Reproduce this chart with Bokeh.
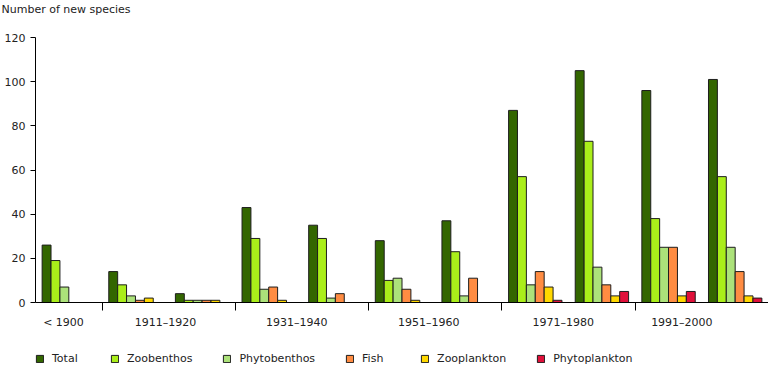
from bokeh.plotting import figure
from bokeh.models import Range1d, FixedTicker, Legend, LegendItem, ColumnDataSource, LinearAxis
from bokeh.layouts import column
from bokeh.embed import file_html
from bokeh.resources import INLINE

# ---- data ----
periods = ["< 1900", "1901–1910", "1911–1920", "1921–1930", "1931–1940", "1941–1950",
           "1951–1960", "1961–1970", "1971–1980", "1981–1990", "1991–2000"]
total = [26, 14, 4, 43, 35, 28, 37, 87, 105, 96, 101]
zoobenthos = [19, 8, 1, 29, 29, 10, 23, 57, 73, 38, 57]
phytobenthos = [7, 3, 1, 6, 2, 11, 3, 8, 16, 25, 25]
fish = [0, 1, 1, 7, 4, 6, 11, 14, 8, 25, 14]
zooplankton = [0, 2, 1, 1, 0, 1, 0, 7, 3, 3, 3]
phytoplankton = [0, 0, 0, 0, 0, 0, 0, 1, 5, 5, 2]
series_names = ["Total", "Zoobenthos", "Phytobenthos", "Fish", "Zooplankton", "Phytoplankton"]
shown_labels = ["< 1900", "1911–1920", "1931–1940", "1951–1960", "1971–1980", "1991–2000"]
y_ticks = [0, 20, 40, 60, 80, 100, 120]

series_values = [total, zoobenthos, phytobenthos, fish, zooplankton, phytoplankton]
colors = ["#336600", "#aaee1a", "#ace27a", "#ff8c42", "#ffd800", "#e0103a"]

FONT = "DejaVu Sans"
TXT = "#222222"
EDGE = "#1e1e1e"

p = figure(width=768, height=338, x_range=Range1d(0, len(periods)), y_range=Range1d(0, 120),
           output_backend="svg", toolbar_location=None,
           min_border_left=35, min_border_right=0, min_border_top=37, min_border_bottom=36)
p.outline_line_color = None
p.xgrid.visible = False
p.ygrid.visible = False

bar_w = 0.1335
sources = []
for j, (name, vals) in enumerate(zip(series_names, series_values)):
    xs = [i + 0.5 + (j - 2.5) * bar_w for i in range(len(periods))]
    src = ColumnDataSource(dict(x=xs, top=vals, period=periods))
    sources.append(src)
    p.vbar(x="x", top="top", width=bar_w, bottom=0, source=src,
           fill_color=colors[j], line_color=EDGE, line_width=1)

# x axis: separator ticks between pairs of decades, labels centred between them
label_pos = [0.42, 1.95, 3.92, 5.9, 7.92, 9.7]
xa = p.xaxis[0]
xa.ticker = FixedTicker(ticks=label_pos, minor_ticks=[1, 3, 5, 7, 9])
xa.major_label_overrides = {pos: lab for pos, lab in zip(label_pos, shown_labels)}
xa.major_tick_out = 0
xa.major_tick_in = 0
xa.minor_tick_out = 8
xa.minor_tick_in = 0
xa.minor_tick_line_color = "black"
xa.axis_line_color = "black"
xa.major_label_standoff = 5
xa.major_label_text_font = FONT
xa.major_label_text_font_size = "11px"
xa.major_label_text_color = TXT

ya = p.yaxis[0]
ya.ticker = FixedTicker(ticks=y_ticks, minor_ticks=[])
ya.major_tick_out = 5
ya.major_tick_in = 0
ya.major_tick_line_color = "black"
ya.axis_line_color = "black"
ya.major_label_standoff = 5
ya.major_label_text_font = FONT
ya.major_label_text_font_size = "11px"
ya.major_label_text_color = TXT

# blank spacer between the title and the plot area
spacer = LinearAxis(ticker=FixedTicker(ticks=[]), axis_line_color=None,
                    major_tick_out=0, major_tick_in=0, minor_tick_out=0, minor_tick_in=0,
                    major_label_standoff=0, axis_label=" ", axis_label_standoff=4,
                    axis_label_text_font_size="11px")
p.add_layout(spacer, "above")

p.title.text = "Number of new species"
p.title.align = "left"
p.title.offset = -34
p.title.text_font = FONT
p.title.text_font_size = "11px"
p.title.text_font_style = "normal"
p.title.text_color = TXT
p.title.vertical_align = "top"
p.title.standoff = 2

# legend strip below the chart (same data, drawn far outside its visible range)
lf = figure(width=768, height=28, x_range=p.x_range, y_range=Range1d(1000, 1001),
            x_axis_type=None, y_axis_type=None, output_backend="svg", toolbar_location=None,
            min_border=0)
lf.outline_line_color = None
lf.xgrid.visible = False
lf.ygrid.visible = False
items = []
for j, name in enumerate(series_names):
    r = lf.vbar(x="x", top="top", width=bar_w, bottom=0, source=sources[j],
                fill_color=colors[j], line_color=EDGE, line_width=1)
    items.append(LegendItem(label=name, renderers=[r]))
legend = Legend(items=items, orientation="horizontal", location=(0, 1), margin=0, padding=0,
                spacing=30, label_width=28, label_standoff=8, glyph_width=9, glyph_height=9,
                label_text_font=FONT, label_text_font_size="11px", label_text_color=TXT,
                border_line_color=None, background_fill_alpha=0)
lf.add_layout(legend, "center")

layout = column(p, lf, spacing=0)
open("out.html", "w").write(file_html(layout, INLINE))
